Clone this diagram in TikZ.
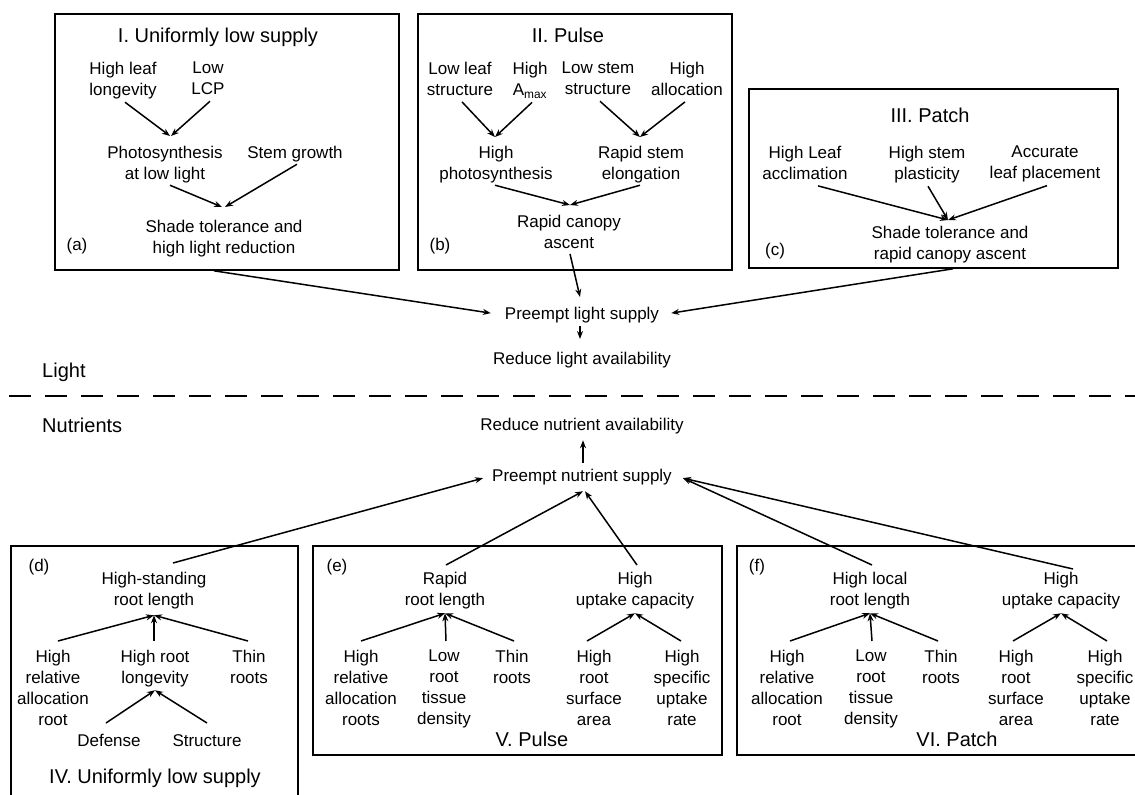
\documentclass[tikz,border=0pt]{standalone}
\usepackage{fontspec}
\setmainfont{Liberation Sans}
\usetikzlibrary{arrows.meta}
\begin{document}
\begin{tikzpicture}[x=1pt,y=-1pt,
  txt/.style={font=\fontsize{17}{21}\selectfont, align=center, inner sep=0pt, anchor=north},
  ttl/.style={font=\fontsize{20}{24}\selectfont, inner sep=0pt, anchor=north},
  lab/.style={font=\fontsize{17}{21}\selectfont, inner sep=0pt, anchor=center},
  side/.style={font=\fontsize{20}{24}\selectfont, inner sep=0pt, anchor=west},
  panel/.style={draw, line width=1.8pt, inner sep=0pt, anchor=north west},
  arr/.style={line width=1.5pt, -{Stealth[length=8pt,width=6pt]}},
  divider/.style={line width=1.8pt, dash pattern=on 22pt off 14pt}]
\useasboundingbox (0,0) rectangle (1135,795);

% ---------- panels ----------
\node[panel, minimum width=344pt, minimum height=256pt] (bI) at (54,13) {};
\node[panel, minimum width=314pt, minimum height=256pt] (bII) at (417,13) {};
\node[panel, minimum width=369pt, minimum height=179pt] (bIII) at (748,88) {};
\node[panel, minimum width=287pt, minimum height=270pt] (bIV) at (10,545) {};
\node[panel, minimum width=409pt, minimum height=209pt] (bV) at (312,545) {};
\node[panel, minimum width=409pt, minimum height=209pt] (bVI) at (736,545) {};

% ---------- Panel I ----------
\node[ttl] (t1) at (218,28) {I. Uniformly low supply};
\node[txt] (a1) at (123,62) {High leaf\\longevity};
\node[txt] (a2) at (208,62) {Low\\LCP};
\node[txt] (a3) at (165,146) {Photosynthesis\\at low light};
\node[txt] (a4) at (295,146) {Stem growth};
\node[txt] (a5) at (224,220) {Shade tolerance and\\high light reduction};
\node[lab] (la) at (77,246) {(a)};
\draw[arr] ([shift={(2,3)}]a1.south) -- ([shift={(5,-10)}]a3.north);
\draw[arr] ([shift={(2,6)}]a2.south) -- ([shift={(6,-10)}]a3.north);
\draw[arr] ([shift={(5,2)}]a3.south) -- ([shift={(-2,-13)}]a5.north);
\draw[arr] ([shift={(2,2)}]a4.south) -- ([shift={(1,-13)}]a5.north);

% ---------- Panel II ----------
\node[ttl] (t2) at (568,28) {II. Pulse};
\node[txt] (b1) at (460,62) {Low leaf\\structure};
\node[txt] (b2) at (530,62) {High\\A\textsubscript{max}};
\node[txt] (b3) at (598,62) {Low stem\\structure};
\node[txt] (b4) at (687,62) {High\\allocation};
\node[txt] (b5) at (496,146) {High\\photosynthesis};
\node[txt] (b6) at (641,146) {Rapid stem\\elongation};
\node[txt] (b7) at (569,215) {Rapid canopy\\ascent};
\node[lab] (lb) at (440,246) {(b)};
\draw[arr] ([shift={(2,6)}]b1.south) -- ([shift={(-1,-9)}]b5.north);
\draw[arr] ([shift={(2,4)}]b2.south) -- ([shift={(-1,-9)}]b5.north);
\draw[arr] ([shift={(2,6)}]b3.south) -- ([shift={(-1,-9)}]b6.north);
\draw[arr] ([shift={(-2,6)}]b4.south) -- ([shift={(-1,-9)}]b6.north);
\draw[arr] ([shift={(-1,2)}]b5.south) -- ([shift={(1,-10)}]b7.north);
\draw[arr] ([shift={(-1,2)}]b6.south) -- ([shift={(1,-10)}]b7.north);

% ---------- Panel III ----------
\node[ttl] (t3) at (930,108) {III. Patch};
\node[txt] (c1) at (805,146) {High Leaf\\acclimation};
\node[txt] (c2) at (927,146) {High stem\\plasticity};
\node[txt] (c3) at (1045,146) {Accurate\\leaf placement};
\node[txt] (c4) at (950,226) {Shade tolerance and\\rapid canopy ascent};
\node[lab] (lc) at (775,251) {(c)};
\draw[arr] ([shift={(13,6)}]c1.south) -- ([shift={(-2,-6)}]c4.north);
\draw[arr] ([shift={(1,3)}]c2.south) -- ([shift={(-2,-6)}]c4.north);
\draw[arr] ([shift={(2,3)}]c3.south) -- ([shift={(-2,-6)}]c4.north);

% ---------- Light outcome ----------
\node[txt] (pl) at (582,307) {Preempt light supply};
\node[txt] (rl) at (582,352) {Reduce light availability};
\draw[arr] ([shift={(-13,0)}]bI.south) -- ([shift={(-14,-2)}]pl.west);
\draw[arr] ([shift={(1,5)}]b7.south) -- ([shift={(-2,-10)}]pl.north);
\draw[arr] ([shift={(19.5,0)}]bIII.south) -- ([shift={(12,-2)}]pl.east);
\draw[arr] ([shift={(-2,3)}]pl.south) -- ([shift={(-2,-13)}]rl.north);

\node[side] (light) at (42,372) {Light};
\coordinate (dl) at (9,396);
\coordinate (dr) at (1135,396);
\draw[divider] (dl) -- (dr);
\node[side] (nutr) at (42,425) {Nutrients};

% ---------- Nutrient outcome ----------
\node[txt] (rn) at (582,418) {Reduce nutrient availability};
\node[txt] (pn) at (582,469) {Preempt nutrient supply};
\draw[arr] ([shift={(1,-6)}]pn.north) -- ([shift={(1,6)}]rn.south);

% ---------- Panel IV ----------
\node[lab] (ld) at (39,567) {(d)};
\node[txt] (d1) at (154,572) {High-standing\\root length};
\node[txt] (d2) at (53,650) {High\\relative\\allocation\\root};
\node[txt] (d3) at (155,650) {High root\\longevity};
\node[txt] (d4) at (249,650) {Thin\\roots};
\node[txt] (d5) at (109,734) {Defense};
\node[txt] (d6) at (207,734) {Structure};
\node[ttl] (t4) at (155,769) {IV. Uniformly low supply};
\draw[arr] ([shift={(5,-9)}]d2.north) -- ([shift={(0,6)}]d1.south);
\draw[arr] ([shift={(-1,-9)}]d3.north) -- ([shift={(0,6)}]d1.south);
\draw[arr] ([shift={(-1,-9)}]d4.north) -- ([shift={(0,6)}]d1.south);
\draw[arr] ([shift={(-3,-11)}]d5.north) -- ([shift={(0,3)}]d3.south);
\draw[arr] ([shift={(0,-11)}]d6.north) -- ([shift={(0,3)}]d3.south);

% ---------- Panel V ----------
\node[lab] (le) at (337,567) {(e)};
\node[txt] (e1) at (445,572) {Rapid\\root length};
\node[txt] (e2) at (635,572) {High\\uptake capacity};
\node[txt] (e3) at (361,650) {High\\relative\\allocation\\roots};
\node[txt] (e4) at (444,650) {Low\\root\\tissue\\density};
\node[txt] (e5) at (512,650) {Thin\\roots};
\node[txt] (e6) at (594,650) {High\\root\\surface\\area};
\node[txt] (e7) at (682,650) {High\\specific\\uptake\\rate};
\node[ttl] (t5) at (532,732) {V. Pulse};
\draw[arr] ([shift={(0,-9)}]e3.north) -- ([shift={(0,4)}]e1.south);
\draw[arr] ([shift={(2,-9)}]e4.north) -- ([shift={(0,4)}]e1.south);
\draw[arr] ([shift={(2,-9)}]e5.north) -- ([shift={(0,4)}]e1.south);
\draw[arr] ([shift={(-7,-9)}]e6.north) -- ([shift={(0,4)}]e2.south);
\draw[arr] ([shift={(-1,-9)}]e7.north) -- ([shift={(0,4)}]e2.south);

% ---------- Panel VI ----------
\node[lab] (lf) at (757,567) {(f)};
\node[txt] (f1) at (870,572) {High local\\root length};
\node[txt] (f2) at (1061,572) {High\\uptake capacity};
\node[txt] (f3) at (787,650) {High\\relative\\allocation\\root};
\node[txt] (f4) at (871,650) {Low\\root\\tissue\\density};
\node[txt] (f5) at (941,650) {Thin\\roots};
\node[txt] (f6) at (1016,650) {High\\root\\surface\\area};
\node[txt] (f7) at (1105,650) {High\\specific\\uptake\\rate};
\node[ttl] (t6) at (957,732) {VI. Patch};
\draw[arr] ([shift={(3,-9)}]f3.north) -- ([shift={(0,4)}]f1.south);
\draw[arr] ([shift={(1,-9)}]f4.north) -- ([shift={(0,4)}]f1.south);
\draw[arr] ([shift={(-3,-9)}]f5.north) -- ([shift={(0,4)}]f1.south);
\draw[arr] ([shift={(-3,-9)}]f6.north) -- ([shift={(0,4)}]f2.south);
\draw[arr] ([shift={(2,-9)}]f7.north) -- ([shift={(0,4)}]f2.south);

% ---------- to nutrient supply ----------
\draw[arr] ([shift={(19,-9)}]d1.north) -- ([shift={(-9,1)}]pn.west);
\draw[arr] ([shift={(1,-7)}]e1.north) -- ([shift={(1,6)}]pn.south);
\draw[arr] ([shift={(2,-7)}]e2.north) -- ([shift={(3,6)}]pn.south);
\draw[arr] ([shift={(2,-7)}]f1.north) -- ([shift={(11,1)}]pn.east);
\draw[arr] ([shift={(12,-3)}]f2.north) -- ([shift={(11,1)}]pn.east);
\end{tikzpicture}
\end{document}
